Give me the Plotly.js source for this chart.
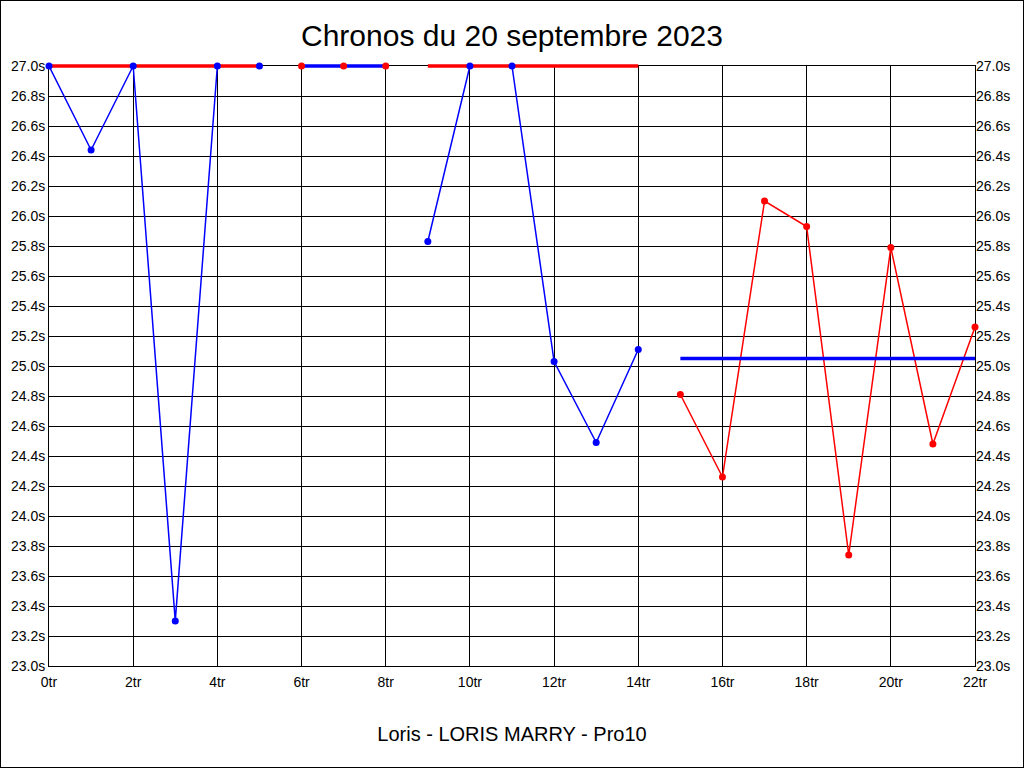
<!DOCTYPE html>
<html><head><meta charset="utf-8">
<script src="https://cdn.plot.ly/plotly-3.0.1.min.js"></script>
<style>
html,body{margin:0;padding:0;background:#fff;}
#chart{width:1022px;height:766px;border:1px solid #000;}
</style></head>
<body><div id="chart"></div>
<script>
const lapNumbers = [0,1,2,3,4,5,6,7,8,9,10,11,12,13,14,15,16,17,18,19,20,21,22];
const blueTimes = [27.0,26.44,27.0,23.30,27.0,27.0,null,null,null,25.83,27.0,27.0,25.03,24.49,25.11,null,null,null,null,null,null,null,null];
const redTimes = [null,null,null,null,null,null,27.0,27.0,27.0,null,null,null,null,null,null,24.81,24.26,26.10,25.93,23.74,25.79,24.48,25.26];
const stintStart = [0,6,9,15];
const stintEnd = [5,8,14,22];
const stintAvg = [27.0,27.0,27.0,25.05];
const yTickVals = [23.0,23.2,23.4,23.6,23.8,24.0,24.2,24.4,24.6,24.8,25.0,25.2,25.4,25.6,25.8,26.0,26.2,26.4,26.6,26.8,27.0];
const xTickVals = [0,2,4,6,8,10,12,14,16,18,20,22];
const titleText = "Chronos du 20 septembre 2023";
const driverText = "Loris - LORIS MARRY - Pro10";

const BLUE = "#0000ff", RED = "#ff0000";
const FONT = "Liberation Sans, Arial, sans-serif";
const Y_MIN = 23, Y_MAX = 27;
const X_MIN = 0, X_MAX = 22;

// plot area geometry: main plot 600px tall; data layer extends 6px above so
// lines on the 27.0s edge are not clipped
const plotH = 600, extra = 6;
const mainTop = plotH / (plotH + extra);
const y3Max = Y_MIN + (Y_MAX - Y_MIN) * (plotH + extra) / plotH;

const traces = [];
// dummy traces for axes
traces.push({x: [X_MIN], y: [Y_MIN], xaxis: "x", yaxis: "y", mode: "markers", marker: {opacity: 0}, hoverinfo: "skip"});
traces.push({x: [X_MIN], y: [Y_MIN], xaxis: "x", yaxis: "y2", mode: "markers", marker: {opacity: 0}, hoverinfo: "skip"});
// lap time lines
traces.push({x: lapNumbers, y: blueTimes, xaxis: "x2", yaxis: "y3", mode: "lines", line: {color: BLUE, width: 1.5}, hoverinfo: "skip"});
traces.push({x: lapNumbers, y: redTimes, xaxis: "x2", yaxis: "y3", mode: "lines", line: {color: RED, width: 1.5}, hoverinfo: "skip"});
// stint averages drawn in the alternate colour
const avgSeriesColors = [RED, BLUE, RED, BLUE];
for (let i = 0; i < stintStart.length; i++) {
  traces.push({x: [stintStart[i], stintEnd[i]], y: [stintAvg[i], stintAvg[i]], xaxis: "x2", yaxis: "y3", mode: "lines",
    line: {color: avgSeriesColors[i], width: 3.5}, hoverinfo: "skip"});
}
traces.push({x: lapNumbers, y: blueTimes, xaxis: "x2", yaxis: "y3", mode: "markers", marker: {color: BLUE, size: 7}, cliponaxis: false});
traces.push({x: lapNumbers, y: redTimes, xaxis: "x2", yaxis: "y3", mode: "markers", marker: {color: RED, size: 7}, cliponaxis: false});

const tickFont = {family: FONT, size: 14, color: "#000"};
const yTickText = yTickVals.map(v => v.toFixed(1) + "s");
const layout = {
  width: 1022, height: 766,
  margin: {l: 48, r: 48, t: 65 - extra, b: 101},
  paper_bgcolor: "#fff", plot_bgcolor: "rgba(0,0,0,0)",
  showlegend: false,
  title: {text: titleText, font: {family: FONT, size: 30, color: "#000"}, x: 0.5, xanchor: "center", y: 0.955, yanchor: "middle"},
  xaxis: {range: [X_MIN, X_MAX], tickvals: xTickVals, ticktext: xTickVals.map(v => v + "tr"),
    showgrid: true, gridcolor: "#000", gridwidth: 1, zeroline: false, anchor: "y",
    showline: true, linecolor: "#000", linewidth: 1, mirror: true, ticks: "", ticklabelstandoff: 3,
    tickfont: tickFont,
    title: {text: driverText, font: {family: FONT, size: 20, color: "#000"}, standoff: 38}},
  yaxis: {range: [Y_MIN, Y_MAX], domain: [0, mainTop], tickvals: yTickVals, ticktext: yTickText, anchor: "x",
    showgrid: true, gridcolor: "#000", gridwidth: 1, zeroline: false,
    showline: true, linecolor: "#000", linewidth: 1, mirror: true, ticks: "", tickfont: tickFont},
  yaxis2: {range: [Y_MIN, Y_MAX], domain: [0, mainTop], tickvals: yTickVals, ticktext: yTickText, overlaying: "y", side: "right", anchor: "x",
    showgrid: false, zeroline: false, showline: false, ticks: "", tickfont: tickFont},
  xaxis2: {range: [X_MIN, X_MAX], overlaying: "x", anchor: "y3", visible: false, showgrid: false, zeroline: false},
  yaxis3: {range: [Y_MIN, y3Max], domain: [0, 1], anchor: "x2", visible: false, showgrid: false, zeroline: false}
};
Plotly.newPlot("chart", traces, layout, {displayModeBar: false, staticPlot: true});
</script>
</body></html>
